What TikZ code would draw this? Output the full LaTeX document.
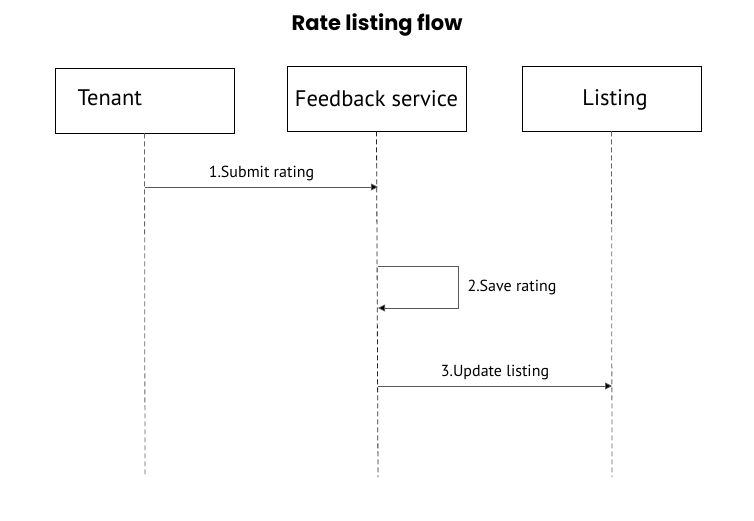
\documentclass[tikz,border=0pt]{standalone}
\usepackage{fontspec}
\setmainfont{PT Sans}
\newfontfamily\titlefont{Poppins}
\usetikzlibrary{positioning,arrows.meta}
\tikzstyle{actor} = [draw, thick, fill=white, rectangle,
    minimum height=65pt, minimum width=179pt]
\tikzstyle{actortext} = [font=\fontsize{22.5}{26}\selectfont]
\tikzstyle{lifeline} = [black!60, thick, dash pattern=on 5pt off 3pt]
\tikzstyle{msg} = [black!65, thick, -{Triangle[length=7pt,width=7pt,fill=black]}]
\tikzstyle{msglabel} = [text=black, font=\fontsize{16}{18}\selectfont]

\begin{document}
\begin{tikzpicture}[x=1pt, y=-1pt]
     \useasboundingbox (0,0) rectangle (754,521);
     \node [font=\titlefont\bfseries\fontsize{21}{24}\selectfont] (title) at (377,25) {Rate listing flow};

     \node [actor] (tenant) at (144.5,100.5) {};
     \node [actortext, anchor=west] (tenanttext) at (74,98) {Tenant};
     \node [actor, actortext] (feedback) at (376.5,98.5) {Feedback service};
     \node [actor] (listing) at (611.5,98.5) {};
     \node [actortext] (listingtext) at (615,100) {Listing};

     \coordinate (tenantend) at (145,477);
     \coordinate (feedbackend) at (378,477);
     \coordinate (listingend) at (612,477);
     \draw [lifeline] (tenant.south) -- (tenantend);
     \draw [lifeline, black!85] (feedback.south) -- (feedbackend);
     \draw [lifeline] (listing.south) -- (listingend);

     % messages
     \coordinate (m1a) at (145,187);
     \coordinate (m1b) at (378,187);
     \draw [msg] (m1a) -- node[msglabel, above, yshift=2pt] (m1) {1.Submit rating} (m1b);

     \coordinate (m2a) at (378,266);
     \coordinate (m2b) at (378,308);
     \draw [msg] (m2a) -- ++(80,0) |- (m2b);
     \node [msglabel, anchor=west] (m2) at (464,287) {2.Save rating};

     \coordinate (m3a) at (378,386);
     \coordinate (m3b) at (612,386);
     \draw [msg] (m3a) -- node[msglabel, above, yshift=2pt] (m3) {3.Update listing} (m3b);
\end{tikzpicture}
\end{document}
